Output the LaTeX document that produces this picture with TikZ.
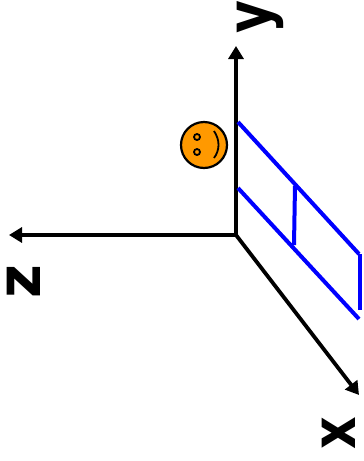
\documentclass[tikz,border=0pt]{standalone}
\usepackage{fontspec}
\usepackage{graphicx}
\setmainfont{DejaVu Sans}[BoldFeatures={FakeStretch=0.83}]
\usetikzlibrary{arrows.meta}
\begin{document}
\begin{tikzpicture}[x=1pt,y=-1pt,
  axis/.style={line width=3.8pt,-{Triangle[length=13pt,width=15pt]}},
  blueline/.style={blue,line width=4pt},
  lab/.style={font=\bfseries\fontsize{61pt}{61pt}\selectfont,rotate=90,inner sep=0pt,anchor=center},
  face/.style={draw=black,line width=2.2pt,fill=orange!80!yellow}]
\useasboundingbox (0,0) rectangle (364,461);
\coordinate (o) at (236,235);
\coordinate (ty) at (236,46);
\coordinate (tz) at (9,235);
\coordinate (tx) at (359,395);
\draw[axis] (o) -- (ty);
\draw[axis] (o) -- (tz);
\draw[axis] (o) -- (tx);
\coordinate (a1) at (238,122); \coordinate (a2) at (359,254);
\coordinate (b1) at (238,188); \coordinate (b2) at (359,319);
\coordinate (c1) at (295,186); \coordinate (c2) at (294,245);
\coordinate (d1) at (360,254); \coordinate (d2) at (360,310);
\draw[blueline] (a1) -- (a2);
\draw[blueline] (b1) -- (b2);
\draw[blueline] (c1) -- (c2);
\draw[blueline] (d1) -- (d2);
\node[face,circle,minimum size=46pt,inner sep=0pt] (f) at (204,145) {};
\node[circle,draw=black,line width=1.8pt,minimum size=6pt,inner sep=0pt] (e1) at (197,137) {};
\node[circle,draw=black,line width=1.8pt,minimum size=6pt,inner sep=0pt] (e2) at (197,152) {};
\draw[line width=1.8pt] (214,131) .. controls (220,140) and (220,150) .. (214,158);
\node[lab] (ly) at (260,17) {y};
\node[lab] (lz) at (24,282) {\scalebox{1.15}[1]{z}};
\node[lab] (lx) at (339,433) {x};
\end{tikzpicture}
\end{document}
